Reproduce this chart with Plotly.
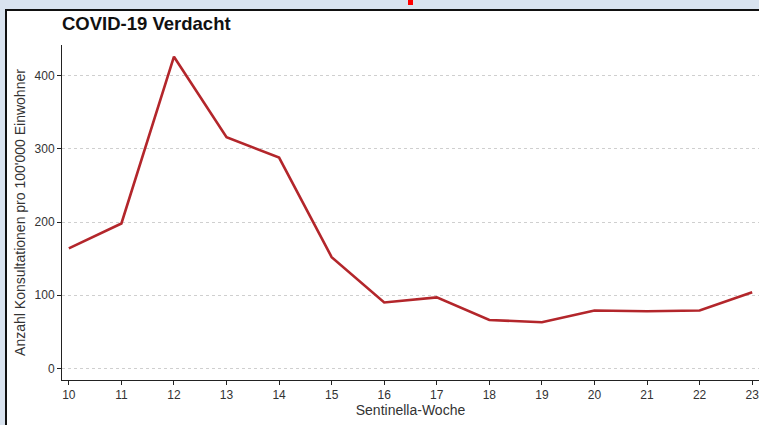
import plotly.graph_objects as go

weeks = [10, 11, 12, 13, 14, 15, 16, 17, 18, 19, 20, 21, 22, 23]
consultations = [164, 198, 426, 316, 288, 152, 90, 97, 66, 63, 79, 78, 79, 104]
y_ticks = [0, 100, 200, 300, 400]

W, H = 759, 425
L, R, T, B = 62, 0, 45, 45
pw, ph = W - L - R, H - T - B

def px_x(x):
    return (x - L) / pw

def px_y(y):
    return (H - B - y) / ph

fig = go.Figure()
fig.add_trace(go.Scatter(
    x=weeks, y=consultations, mode="lines",
    line=dict(color="#b3262b", width=2.6),
    showlegend=False, hoverinfo="skip"))

fig.update_layout(
    width=W, height=H,
    margin=dict(l=L, r=R, t=T, b=B, autoexpand=False),
    paper_bgcolor="#d9e3ef",
    plot_bgcolor="rgba(0,0,0,0)",
    font=dict(family="Liberation Sans, Arial, sans-serif", color="#333333"),
    title=dict(text="<b>COVID-19 Verdacht</b>", x=px_x(62), xref="paper",
               xanchor="left", y=1 - 24 / H, yanchor="middle",
               font=dict(size=18.5, color="#111111")),
    shapes=[
        dict(type="rect", xref="paper", yref="paper", layer="below",
             x0=px_x(6), x1=px_x(765), y0=px_y(430), y1=px_y(10),
             fillcolor="white", line=dict(color="#111111", width=2)),
        dict(type="rect", xref="paper", yref="paper", layer="above",
             x0=px_x(408), x1=px_x(413), y0=px_y(5), y1=px_y(0),
             fillcolor="#ff0000", line=dict(width=0)),
    ],
)

fig.update_xaxes(
    range=[9.87, 23.13], tickvals=weeks, ticktext=[str(w) for w in weeks],
    automargin=False, ticklabeloverflow="allow",
    showline=True, linecolor="#222222", linewidth=1,
    ticks="outside", ticklen=4, tickcolor="#222222",
    showgrid=False, zeroline=False,
    tickfont=dict(size=12, color="#333333"),
    title=dict(text="Sentinella-Woche", font=dict(size=14, color="#333333"), standoff=2),
)
fig.update_yaxes(
    range=[-16, 442], tickvals=y_ticks,
    automargin=False,
    showline=True, linecolor="#222222", linewidth=1,
    ticks="outside", ticklen=4, tickcolor="#222222",
    showgrid=True, gridcolor="#cfcfcf", griddash="dot", gridwidth=1,
    zeroline=False,
    tickfont=dict(size=12, color="#333333"),
    title=dict(text="Anzahl Konsultationen pro 100'000 Einwohner",
               font=dict(size=14, color="#333333"), standoff=5),
)

fig.write_html("out.html", config={"displayModeBar": False},
               post_script="document.body.style.margin='0';document.body.style.overflow='hidden';")
